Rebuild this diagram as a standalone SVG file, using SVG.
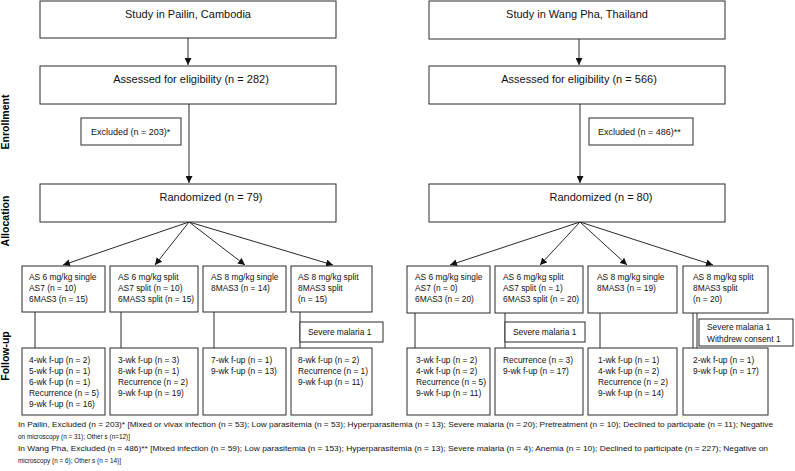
<svg xmlns="http://www.w3.org/2000/svg" width="795" height="471" viewBox="0 0 795 471">
<style>
rect{fill:#fff;stroke:#2a2a2a;stroke-width:1}
.big{font-family:"Liberation Sans",Arial,sans-serif;font-size:11px;fill:#111}
.sm{font-family:"Liberation Sans",Arial,sans-serif;font-size:8.4px;fill:#111}
.ex{font-family:"Liberation Sans",Arial,sans-serif;font-size:9px;fill:#111}
.fn{font-family:"Liberation Sans",Arial,sans-serif;font-size:7.8px;fill:#111}
.lab{font-family:"Liberation Sans",Arial,sans-serif;font-size:10.5px;font-weight:bold;fill:#000}
.c line{stroke:#2a2a2a;stroke-width:1}
.c .a{marker-end:url(#ah)}
</style>
<defs>
<marker id="ah" viewBox="0 0 10 10" refX="10" refY="5" markerWidth="7" markerHeight="7" markerUnits="userSpaceOnUse" orient="auto">
<path d="M0,0 L10,5 L0,10 z" fill="#111"/>
</marker>
</defs>
<rect x="0" y="0" width="795" height="471" style="fill:#fff;stroke:none"/>

<g id="labels">
<text class="lab" transform="translate(9,122) rotate(-90)" text-anchor="middle">Enrollment</text>
<text class="lab" transform="translate(9,221) rotate(-90)" text-anchor="middle">Allocation</text>
<text class="lab" transform="translate(9,356) rotate(-90)" text-anchor="middle">Follow-up</text>
</g>

<g class="c" id="connectors">
<line class="a" x1="188" y1="38" x2="188" y2="65"/>
<line class="a" x1="579" y1="39" x2="579" y2="65"/>
<line class="a" x1="189" y1="104" x2="189" y2="183"/>
<line class="a" x1="580" y1="104" x2="580" y2="183"/>
<line class="a" x1="189" y1="222" x2="63" y2="265"/>
<line class="a" x1="189" y1="222" x2="155" y2="265"/>
<line class="a" x1="189" y1="222" x2="245" y2="265"/>
<line class="a" x1="189" y1="222" x2="333" y2="265"/>
<line class="a" x1="580" y1="222" x2="450" y2="265"/>
<line class="a" x1="580" y1="222" x2="540" y2="265"/>
<line class="a" x1="580" y1="222" x2="627" y2="265"/>
<line class="a" x1="580" y1="222" x2="713" y2="265"/>
<line x1="35" y1="312" x2="35" y2="348"/>
<line x1="121" y1="312" x2="121" y2="348"/>
<line x1="214" y1="312" x2="214" y2="348"/>
<line x1="300" y1="312" x2="300" y2="348"/>
<line x1="415" y1="313" x2="415" y2="348"/>
<line x1="505" y1="313" x2="505" y2="348"/>
<line x1="600" y1="313" x2="600" y2="348"/>
<line x1="693" y1="313" x2="693" y2="348"/>
<line x1="697" y1="313" x2="697" y2="348"/>
</g>

<g id="study-pailin"><rect x="40" y="1" width="296" height="37"/><text class="big" x="188" y="18" text-anchor="middle">Study in Pailin, Cambodia</text></g>
<g id="study-wangpha"><rect x="429" y="1" width="296" height="38"/><text class="big" x="577" y="18" text-anchor="middle">Study in Wang Pha, Thailand</text></g>
<g id="assessed-pailin"><rect x="40" y="66" width="296" height="38"/><text class="big" x="191" y="83" text-anchor="middle">Assessed for eligibility (n = 282)</text></g>
<g id="assessed-wangpha"><rect x="429" y="66" width="296" height="38"/><text class="big" x="579" y="83" text-anchor="middle">Assessed for eligibility (n = 566)</text></g>
<g id="excluded-pailin"><rect x="81" y="118" width="100" height="27"/><text class="ex" x="91" y="135">Excluded (n = 203)*</text></g>
<g id="excluded-wangpha"><rect x="589" y="118" width="104" height="27"/><text class="ex" x="598" y="135">Excluded (n = 486)**</text></g>
<g id="randomized-pailin"><rect x="40" y="184" width="296" height="38"/><text class="big" x="211" y="201" text-anchor="middle">Randomized (n = 79)</text></g>
<g id="randomized-wangpha"><rect x="429" y="184" width="296" height="38"/><text class="big" x="601" y="201" text-anchor="middle">Randomized (n = 80)</text></g>

<g id="alloc-p1"><rect x="22" y="266" width="83" height="46"/><text class="sm" x="29" y="280">AS 6 mg/kg single</text><text class="sm" x="29" y="291">AS7 (n = 10)</text><text class="sm" x="29" y="302">6MAS3 (n = 15)</text></g>
<g id="alloc-p2"><rect x="110" y="266" width="88" height="46"/><text class="sm" x="118" y="280">AS 6 mg/kg split</text><text class="sm" x="118" y="291">AS7 split (n = 10)</text><text class="sm" x="118" y="302">6MAS3 split (n = 15)</text></g>
<g id="alloc-p3"><rect x="203" y="266" width="83" height="46"/><text class="sm" x="211" y="280">AS 8 mg/kg single</text><text class="sm" x="211" y="291">8MAS3 (n = 14)</text></g>
<g id="alloc-p4"><rect x="291" y="266" width="81" height="46"/><text class="sm" x="298" y="280">AS 8 mg/kg split</text><text class="sm" x="298" y="291">8MAS3 split</text><text class="sm" x="298" y="302">(n = 15)</text></g>

<g id="alloc-w1"><rect x="407" y="266" width="83" height="47"/><text class="sm" x="415" y="280">AS 6 mg/kg single</text><text class="sm" x="415" y="291">AS7 (n = 0)</text><text class="sm" x="415" y="302">6MAS3 (n = 20)</text></g>
<g id="alloc-w2"><rect x="495" y="266" width="88" height="47"/><text class="sm" x="503" y="280">AS 6 mg/kg split</text><text class="sm" x="503" y="291">AS7 split (n = 1)</text><text class="sm" x="503" y="302">6MAS3 split (n = 20)</text></g>
<g id="alloc-w3"><rect x="588" y="266" width="89" height="47"/><text class="sm" x="597" y="280">AS 8 mg/kg single</text><text class="sm" x="597" y="291">8MAS3 (n = 19)</text></g>
<g id="alloc-w4"><rect x="683" y="266" width="85" height="47"/><text class="sm" x="693" y="280">AS 8 mg/kg split</text><text class="sm" x="693" y="291">8MAS3 split</text><text class="sm" x="693" y="302">(n = 20)</text></g>

<g id="severe-p4"><rect x="300" y="322" width="83" height="20"/><text class="sm" x="308" y="335">Severe malaria 1</text></g>
<g id="severe-w2"><rect x="505" y="322" width="80" height="20"/><text class="sm" x="513" y="335">Severe malaria 1</text></g>
<g id="severe-w4"><rect x="699" y="319" width="94" height="27"/><text class="sm" x="707" y="330">Severe malaria 1</text><text class="sm" x="707" y="342">Withdrew consent 1</text></g>

<g id="fu-p1"><rect x="22" y="348" width="83" height="67"/><text class="sm" x="29" y="363">4-wk f-up (n = 2)</text><text class="sm" x="29" y="374">5-wk f-up (n = 1)</text><text class="sm" x="29" y="385">6-wk f-up (n = 1)</text><text class="sm" x="29" y="396">Recurrence (n = 5)</text><text class="sm" x="29" y="407">9-wk f-up (n = 16)</text></g>
<g id="fu-p2"><rect x="110" y="348" width="88" height="67"/><text class="sm" x="118" y="363">3-wk f-up (n = 3)</text><text class="sm" x="118" y="374">8-wk f-up (n = 1)</text><text class="sm" x="118" y="385">Recurrence (n = 2)</text><text class="sm" x="118" y="396">9-wk f-up (n = 19)</text></g>
<g id="fu-p3"><rect x="203" y="348" width="83" height="67"/><text class="sm" x="211" y="363">7-wk f-up (n = 1)</text><text class="sm" x="211" y="374">9-wk f-up (n = 13)</text></g>
<g id="fu-p4"><rect x="291" y="348" width="81" height="67"/><text class="sm" x="298" y="363">8-wk f-up (n = 2)</text><text class="sm" x="298" y="374">Recurrence (n = 1)</text><text class="sm" x="298" y="385">9-wk f-up (n = 11)</text></g>

<g id="fu-w1"><rect x="407" y="348" width="83" height="67"/><text class="sm" x="416" y="363">3-wk f-up (n = 2)</text><text class="sm" x="416" y="374">4-wk f-up (n = 2)</text><text class="sm" x="416" y="385">Recurrence (n = 5)</text><text class="sm" x="416" y="396">9-wk f-up (n = 11)</text></g>
<g id="fu-w2"><rect x="495" y="348" width="88" height="67"/><text class="sm" x="503" y="363">Recurrence (n = 3)</text><text class="sm" x="503" y="374">9-wk f-up (n = 17)</text></g>
<g id="fu-w3"><rect x="588" y="348" width="89" height="67"/><text class="sm" x="598" y="363">1-wk f-up (n = 1)</text><text class="sm" x="598" y="374">4-wk f-up (n = 2)</text><text class="sm" x="598" y="385">Recurrence (n = 2)</text><text class="sm" x="598" y="396">9-wk f-up (n = 14)</text></g>
<g id="fu-w4"><rect x="683" y="348" width="85" height="67"/><text class="sm" x="693" y="363">2-wk f-up (n = 1)</text><text class="sm" x="693" y="374">9-wk f-up (n = 17)</text></g>

<g id="footnotes">
<text class="fn" x="18" y="427" textLength="755" lengthAdjust="spacingAndGlyphs">In Pailin, Excluded (n = 203)* [Mixed or vivax infection (n = 53); Low  parasitemia (n = 53); Hyperparasitemia (n = 13); Severe malaria (n = 20); Pretreatment (n = 10); Declined to participate (n = 11); Negative</text>
<text class="fn" x="18" y="439" textLength="112" lengthAdjust="spacingAndGlyphs">on microscopy (n = 31); Other s (n=12)]</text>
<text class="fn" x="18" y="451" textLength="750" lengthAdjust="spacingAndGlyphs">In Wang Pha, Excluded (n = 486)** [Mixed infection (n = 59); Low parasitemia (n = 153); Hyperparasitemia (n = 13); Severe malaria (n = 4); Anemia (n =  10); Declined to participate (n = 227); Negative on</text>
<text class="fn" x="18" y="463" textLength="103" lengthAdjust="spacingAndGlyphs">microscopy (n = 6); Other s (n = 14)]</text>
</g>
</svg>
